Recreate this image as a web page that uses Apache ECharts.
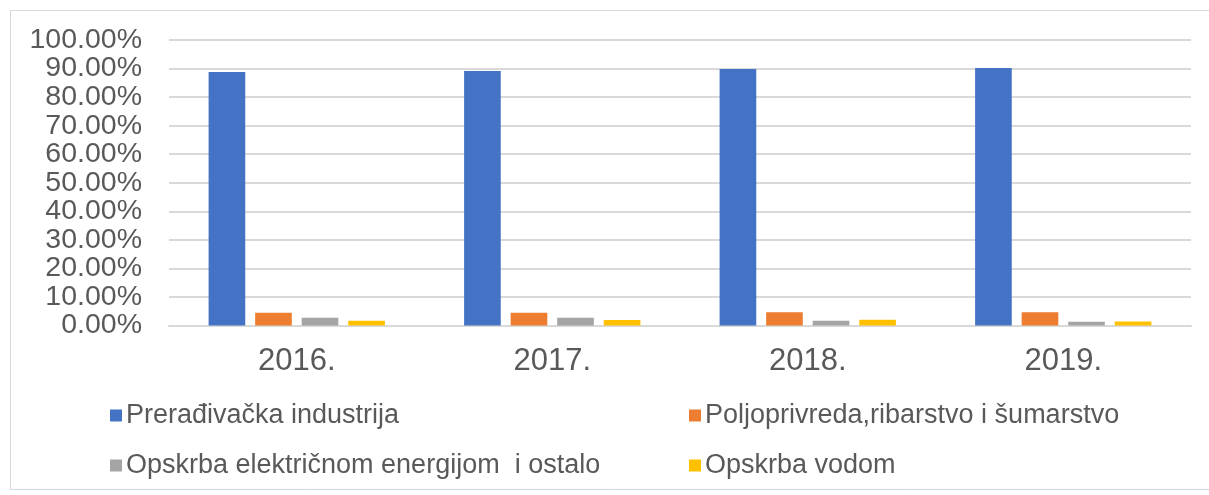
<!DOCTYPE html>
<html>
<head>
<meta charset="utf-8">
<script src="https://cdn.jsdelivr.net/npm/echarts@6/dist/echarts.min.js"></script>
<style>html,body{margin:0;padding:0;background:#fff}#c{width:1209px;height:495px}</style>
</head>
<body>
<div id="c"></div>
<script>
var categories = ['2016.', '2017.', '2018.', '2019.'];
var seriesNames = ['Prerađivačka industrija', 'Poljoprivreda,ribarstvo i šumarstvo', 'Opskrba električnom energijom  i ostalo', 'Opskrba vodom'];
var preradivacka = [88.8, 89.1, 89.8, 90.2];
var poljoprivreda = [4.5, 4.5, 4.6, 4.6];
var elektricna = [2.7, 2.7, 1.7, 1.3];
var voda = [1.7, 1.9, 2.0, 1.4];
var yTicks = [0, 10, 20, 30, 40, 50, 60, 70, 80, 90, 100];

var colors = ['#4472C4', '#ED7D31', '#A5A5A5', '#FFC000'];
var values = [preradivacka, poljoprivreda, elektricna, voda];
var font = 'Liberation Sans, Arial, sans-serif';
var txt = '#595959';

var legendPos = [
  {left: 105, top: 397},
  {left: 684, top: 397},
  {left: 105, top: 447},
  {left: 684, top: 447}
];

function yAxisPart(parity, showGrid) {
  return {
    type: 'value', position: 'left',
    min: yTicks[0], max: yTicks[yTicks.length - 1], interval: yTicks[1] - yTicks[0],
    axisLine: {show: false}, axisTick: {show: false},
    splitLine: {show: showGrid, lineStyle: {color: '#D9D9D9', width: 2}},
    axisLabel: {margin: 27, hideOverlap: false, minMargin: 0,
      fontFamily: font, fontSize: 28.5, color: txt,
      formatter: function (v) {
        var idx = yTicks.indexOf(Math.round(v));
        return idx % 2 === parity ? v.toFixed(2) + '%' : '';
      }}
  };
}

var chart = echarts.init(document.getElementById('c'));
chart.setOption({
  animation: false,
  backgroundColor: '#fff',
  graphic: [{
    type: 'rect', silent: true,
    shape: {x: 10.5, y: 10.5, width: 1210, height: 479},
    style: {fill: 'none', stroke: '#D9D9D9', lineWidth: 1}
  }],
  legend: seriesNames.map(function (n, i) {
    return {
      data: [n], left: legendPos[i].left, top: legendPos[i].top,
      itemWidth: 12, itemHeight: 12, icon: 'rect', itemGap: 0,
      textStyle: {fontFamily: font, fontSize: 27, color: txt, padding: [0, 0, 0, -1]},
      selectedMode: false
    };
  }),
  grid: {left: 169, right: 18, top: 40, bottom: 169.5, containLabel: false},
  xAxis: {
    type: 'category', data: categories,
    axisLine: {show: true, lineStyle: {color: '#D9D9D9', width: 2}},
    axisTick: {show: false},
    axisLabel: {fontFamily: font, fontSize: 31, color: txt, margin: 20}
  },
  yAxis: [yAxisPart(0, true), yAxisPart(1, false)],
  series: seriesNames.map(function (n, i) {
    return {
      name: n, type: 'bar', data: values[i], yAxisIndex: 0,
      itemStyle: {color: colors[i]},
      barCategoryGap: '31%', barGap: '27%'
    };
  })
});
</script>
</body>
</html>
